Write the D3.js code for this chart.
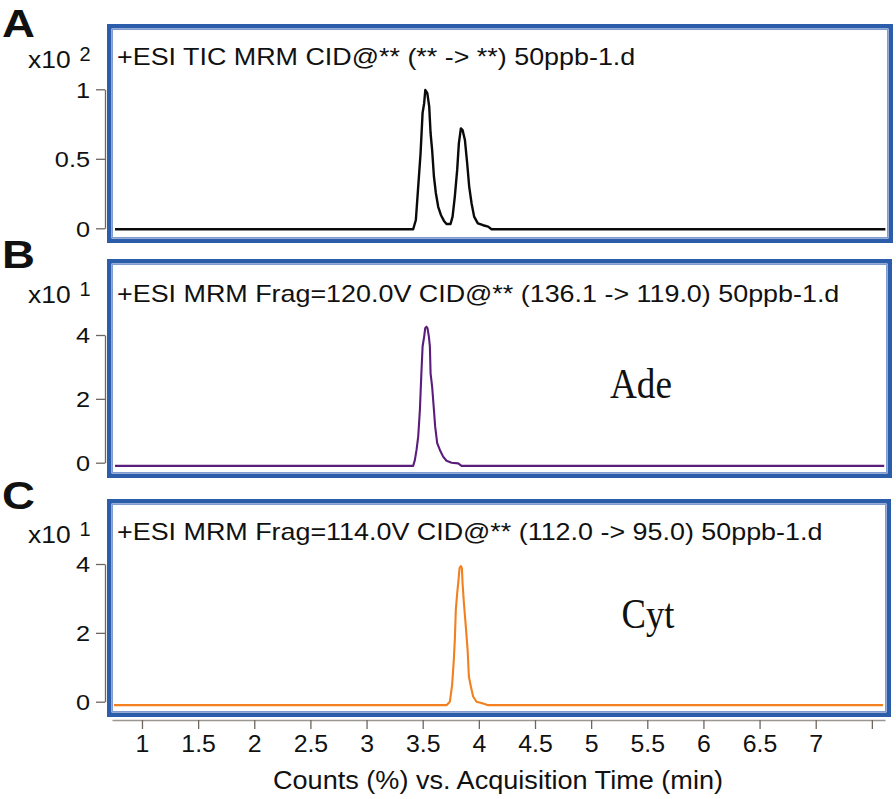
<!DOCTYPE html>
<html><head><meta charset="utf-8">
<script src="https://cdn.jsdelivr.net/npm/d3@7"></script>
<style>
html,body{margin:0;padding:0;background:#fff;}
svg{display:block;font-family:"Liberation Sans",Arial,sans-serif;}
</style></head>
<body><svg id="c" width="896" height="799"></svg>
<script>
// ---------- data ----------
const panelLetters = ["A", "B", "C"];
const panelTitles = [
  "+ESI TIC MRM CID@** (** -> **) 50ppb-1.d",
  "+ESI MRM Frag=120.0V CID@** (136.1 -> 119.0) 50ppb-1.d",
  "+ESI MRM Frag=114.0V CID@** (112.0 -> 95.0) 50ppb-1.d"
];
const panelExponents = ["2", "1", "1"];
const compoundLabels = ["", "Ade", "Cyt"];
const yTicksA = [0, 0.5, 1];
const yTicksB = [0, 2, 4];
const yTicksC = [0, 2, 4];
const xTickValues = [1, 1.5, 2, 2.5, 3, 3.5, 4, 4.5, 5, 5.5, 6, 6.5, 7, 7.5];
const xTickLabels = ["1", "1.5", "2", "2.5", "3", "3.5", "4", "4.5", "5", "5.5", "6", "6.5", "7", ""];
const xAxisTitle = "Counts (%) vs. Acquisition Time (min)";

// TIC (x10^2)
const timeA = [0.76, 3.415, 3.439, 3.460, 3.481, 3.499, 3.513, 3.523, 3.541, 3.558, 3.570, 3.584, 3.600, 3.617, 3.638, 3.662, 3.688, 3.712, 3.748, 3.766, 3.786, 3.807, 3.822, 3.840, 3.855, 3.876, 3.896, 3.914, 3.935, 3.958, 3.991, 4.038, 4.083, 4.113, 7.62];
const countsA = [-0.007, -0.007, 0.06, 0.30, 0.54, 0.83, 0.90, 0.995, 0.973, 0.875, 0.686, 0.563, 0.371, 0.254, 0.155, 0.096, 0.055, 0.031, 0.031, 0.084, 0.228, 0.420, 0.611, 0.719, 0.707, 0.635, 0.468, 0.300, 0.180, 0.084, 0.036, 0.022, 0.012, -0.007, -0.007];
// Ade (x10^1)
const timeB = [0.76, 3.415, 3.430, 3.445, 3.460, 3.475, 3.487, 3.499, 3.513, 3.522, 3.534, 3.543, 3.555, 3.564, 3.570, 3.584, 3.600, 3.611, 3.629, 3.653, 3.682, 3.712, 3.757, 3.816, 3.846, 7.61];
const countsB = [-0.10, -0.10, 0.08, 0.40, 0.82, 1.65, 2.70, 3.64, 3.95, 4.21, 4.26, 4.21, 3.95, 3.64, 2.80, 2.38, 1.65, 1.13, 0.61, 0.40, 0.19, 0.06, 0.00, -0.02, -0.10, -0.10];
// Cyt (x10^1)
const timeC = [0.75, 3.712, 3.742, 3.762, 3.777, 3.786, 3.795, 3.807, 3.819, 3.828, 3.840, 3.849, 3.855, 3.867, 3.884, 3.900, 3.911, 3.929, 3.949, 3.979, 4.038, 4.083, 7.60];
const countsC = [-0.10, -0.10, 0.00, 0.49, 1.21, 1.79, 2.67, 3.15, 3.54, 3.88, 3.94, 3.88, 3.44, 2.86, 2.18, 1.50, 0.73, 0.44, 0.15, 0.00, -0.05, -0.10, -0.10];

// ---------- layout ----------
const svg = d3.select("#c");
const x = d3.scaleLinear().domain([0.733, 7.617]).range([112, 885]);

const panels = [
  {box:[107, 24, 893, 243], yDom:[0, 1], yRange:[228.3, 89.3], ticks:yTicksA, time:timeA, counts:countsA,
   color:"#0a0a0a", lw:2.4, letterY:37, titleY:65, expY:68, label:null},
  {box:[107, 259, 892, 478], yDom:[0, 4], yRange:[462.7, 335], ticks:yTicksB, time:timeB, counts:countsB,
   color:"#5a1d7c", lw:2.1, letterY:268, titleY:302, expY:303, label:{x:641, y:398, w:62}},
  {box:[107, 499, 891, 717], yDom:[0, 4], yRange:[701.7, 564], ticks:yTicksC, time:timeC, counts:countsC,
   color:"#f2801e", lw:2.1, letterY:509, titleY:540, expY:543, label:{x:648, y:628, w:53}}
];

function stretch(sel, factor) {
  sel.each(function() {
    const len = this.getComputedTextLength();
    d3.select(this).attr("textLength", len * factor).attr("lengthAdjust", "spacingAndGlyphs");
  });
}

panels.forEach((p, i) => {
  const g = svg.append("g");
  const [x0, y0, x1, y1] = p.box;
  // frame
  g.append("rect").attr("x", x0 + 2.25).attr("y", y0 + 2.25)
    .attr("width", x1 - x0 - 4.5).attr("height", y1 - y0 - 4.5)
    .attr("fill", "#fff").attr("stroke", "#2c5dab").attr("stroke-width", 4.5);
  g.append("rect").attr("x", x0 + 5.5).attr("y", y0 + 5.5)
    .attr("width", x1 - x0 - 11).attr("height", y1 - y0 - 11)
    .attr("fill", "none").attr("stroke", "#7f9bd0").attr("stroke-width", 1);

  const y = d3.scaleLinear().domain(p.yDom).range(p.yRange);

  // y axis
  const ax = g.append("g").attr("transform", "translate(105,0)")
    .call(d3.axisLeft(y).tickValues(p.ticks).tickFormat(d => String(d)).tickSize(9).tickSizeOuter(0).tickPadding(6));
  ax.select(".domain").attr("stroke", "#6e6660").attr("stroke-width", 1.3);
  ax.selectAll(".tick line").attr("stroke", "#6e6660").attr("stroke-width", 1.3);
  ax.selectAll(".tick text").attr("font-size", 22).attr("fill", "#111")
    .attr("font-family", "Liberation Sans, Arial, sans-serif").attr("dy", "0.36em");
  stretch(ax.selectAll(".tick text"), 1.15);

  // trace
  const pts = p.time.map((t, k) => [t, p.counts[k]]);
  g.append("path").datum(pts)
    .attr("d", d3.line().x(d => x(d[0])).y(d => y(d[1])))
    .attr("fill", "none").attr("stroke", p.color).attr("stroke-width", p.lw)
    .attr("stroke-linejoin", "round");

  // title
  const tt = g.append("text").attr("x", 117).attr("y", p.titleY).attr("font-size", 24)
    .attr("fill", "#111").text(panelTitles[i]);
  stretch(tt, 1.12);

  // panel letter
  const lt = g.append("text").attr("x", 2).attr("y", p.letterY).attr("font-size", 38)
    .attr("font-weight", "bold").attr("fill", "#111").text(panelLetters[i]);
  stretch(lt, 1.2);

  // multiplier
  const mt = g.append("text").attr("x", 28).attr("y", p.expY).attr("font-size", 24)
    .attr("fill", "#111").text("x10");
  stretch(mt, 1.1);
  g.append("text").attr("x", 85).attr("y", p.expY - 7).attr("font-size", 20)
    .attr("text-anchor", "middle").attr("fill", "#111").text(panelExponents[i]);

  // compound label
  if (p.label) {
    g.append("text").attr("x", p.label.x).attr("y", p.label.y).attr("text-anchor", "middle")
      .attr("font-family", "Liberation Serif, 'Times New Roman', serif").attr("font-size", 42)
      .attr("fill", "#111").attr("textLength", p.label.w).attr("lengthAdjust", "spacingAndGlyphs")
      .text(compoundLabels[i]);
  }
});

// x axis
const xa = svg.append("g").attr("transform", "translate(0,720)")
  .call(d3.axisBottom(x).tickValues(xTickValues).tickFormat((d, k) => xTickLabels[k])
    .tickSize(9).tickSizeOuter(0).tickPadding(7));
xa.select(".domain").attr("stroke", "#9a9692").attr("stroke-width", 1.3);
xa.selectAll(".tick line").attr("stroke", "#6e6660").attr("stroke-width", 1.3);
xa.selectAll(".tick text").attr("font-size", 23).attr("fill", "#111")
  .attr("font-family", "Liberation Sans, Arial, sans-serif").attr("dy", "0.71em");
stretch(xa.selectAll(".tick text"), 1.08);

const at = svg.append("text").attr("x", 498).attr("y", 789).attr("text-anchor", "middle")
  .attr("font-size", 25).attr("fill", "#111").text(xAxisTitle);
at.attr("textLength", 450).attr("lengthAdjust", "spacingAndGlyphs");
</script>
</body></html>
